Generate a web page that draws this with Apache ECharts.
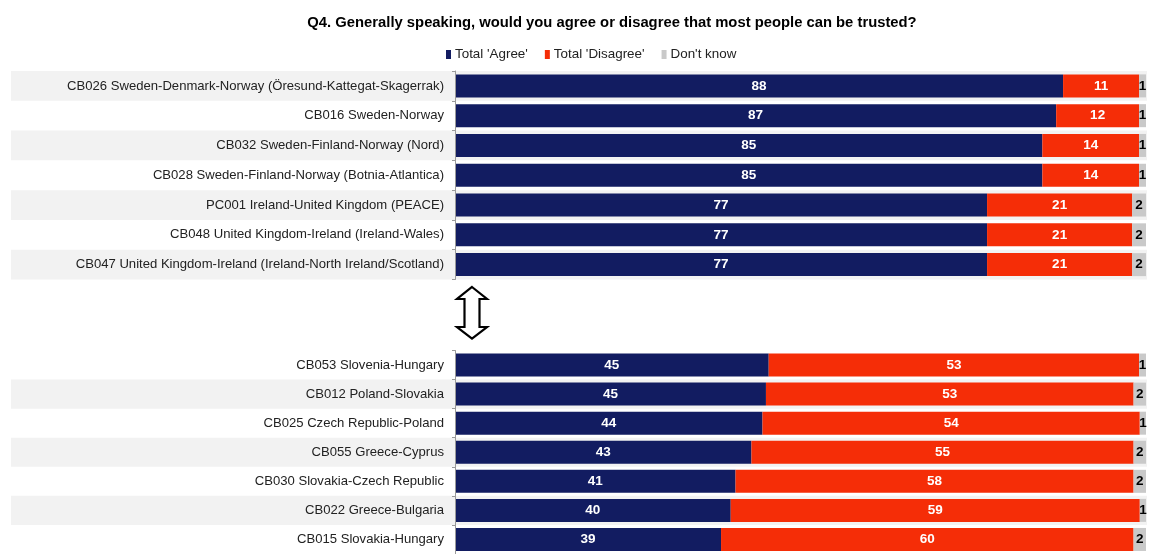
<!DOCTYPE html>
<html>
<head>
<meta charset="utf-8">
<script src="https://cdn.jsdelivr.net/npm/echarts@6/dist/echarts.min.js"></script>
<style>html,body{margin:0;padding:0;background:#fff}#c{width:1151px;height:554px}</style>
</head>
<body>
<div id="c"></div>
<script>
const titleText = "Q4. Generally speaking, would you agree or disagree that most people can be trusted?";
const seriesNames = ["Total 'Agree'", "Total 'Disagree'", "Don't know"];

const topCategories = [
  "CB026 Sweden-Denmark-Norway (Öresund-Kattegat-Skagerrak)",
  "CB016 Sweden-Norway",
  "CB032 Sweden-Finland-Norway (Nord)",
  "CB028 Sweden-Finland-Norway (Botnia-Atlantica)",
  "PC001 Ireland-United Kingdom (PEACE)",
  "CB048 United Kingdom-Ireland (Ireland-Wales)",
  "CB047 United Kingdom-Ireland (Ireland-North Ireland/Scotland)"
];
const topAgree    = [88, 87, 85, 85, 77, 77, 77];
const topDisagree = [11, 12, 14, 14, 21, 21, 21];
const topDontKnow = [1, 1, 1, 1, 2, 2, 2];

const bottomCategories = [
  "CB053 Slovenia-Hungary",
  "CB012 Poland-Slovakia",
  "CB025 Czech Republic-Poland",
  "CB055 Greece-Cyprus",
  "CB030 Slovakia-Czech Republic",
  "CB022 Greece-Bulgaria",
  "CB015 Slovakia-Hungary"
];
// bar lengths (source values are unrounded)
const bottomAgree    = [45.4, 45.0, 44.5, 42.9, 40.6, 39.9, 38.5];
const bottomDisagree = [53.6, 53.2, 54.6, 55.3, 57.6, 59.2, 59.7];
const bottomDontKnow = [1.0, 1.8, 0.9, 1.8, 1.8, 0.9, 1.8];
// labels as printed in the picture
const bottomAgreeLabels    = [45, 45, 44, 43, 41, 40, 39];
const bottomDisagreeLabels = [53, 53, 54, 55, 58, 59, 60];
const bottomDontKnowLabels = [1, 2, 1, 2, 2, 1, 2];

const topStripes    = [1, 0, 1, 0, 1, 0, 1];
const bottomStripes = [0, 1, 0, 1, 0, 1, 0];

const FONT = "'Liberation Sans', Arial, sans-serif";
const C_AGREE = '#121c61', C_DIS = '#f52d07', C_DK = '#c9c9c9';

const chart = echarts.init(document.getElementById('c'), null, {renderer: 'canvas'});

const gridTopY = 71, gridTopH = 208.5, gridBotY = 350.5, gridBotH = 209;

function dataYAxis(cats, gi) {
  return {
    type: 'category', gridIndex: gi, data: cats, inverse: true, z: 5,
    axisLine: {show: true, lineStyle: {color: '#9a9a9a', width: 1}},
    axisTick: {show: true, length: 3, lineStyle: {color: '#9a9a9a'}},
    axisLabel: {fontFamily: FONT, fontSize: 13.1, color: '#222', margin: 11}
  };
}
function stripeYAxis(cats, gi) {
  return {type: 'category', gridIndex: gi, data: cats, inverse: true, show: false};
}
function lbl(color, arr) {
  return {
    show: true, position: 'inside', color: color, fontFamily: FONT,
    fontWeight: 'bold', fontSize: 13.5,
    formatter: arr ? (p => String(arr[p.dataIndex])) : (p => String(p.value))
  };
}
function stripeSeries(data, gi) {
  return {
    type: 'bar', xAxisIndex: gi, yAxisIndex: gi, data: data, barWidth: '100%',
    itemStyle: {color: '#f2f2f2'}, silent: true, z: 0, animation: false
  };
}
function barSeries(name, data, gi, stack, color, labelColor, labels) {
  return {
    name: name, type: 'bar', stack: stack, xAxisIndex: gi, yAxisIndex: gi,
    data: data, barWidth: 23, itemStyle: {color: color},
    label: lbl(labelColor, labels), animation: false, z: 3
  };
}

chart.setOption({
  backgroundColor: '#fff',
  title: {
    text: titleText, left: 607, top: 10, textAlign: 'center',
    textStyle: {fontFamily: FONT, fontSize: 14.8, fontWeight: 'bold', color: '#000'}
  },
  legend: {
    data: seriesNames, left: 446, top: 48, padding: 0,
    itemWidth: 5, itemHeight: 9, itemGap: 17, icon: 'rect',
    textStyle: {fontFamily: FONT, fontSize: 13.4, color: '#222', padding: [0, 0, 0, -1]}
  },
  grid: [
    {left: 11, right: 4, top: gridTopY, height: gridTopH},
    {left: 11, right: 4, top: gridBotY, height: gridBotH},
    {left: 455, right: 5, top: gridTopY, height: gridTopH},
    {left: 455, right: 5, top: gridBotY, height: gridBotH}
  ],
  xAxis: [0, 1, 2, 3].map(i => ({
    type: 'value', gridIndex: i, min: 0, max: i < 2 ? 1 : 100, show: false
  })),
  yAxis: [
    stripeYAxis(topCategories, 0),
    stripeYAxis(bottomCategories, 1),
    dataYAxis(topCategories, 2),
    dataYAxis(bottomCategories, 3)
  ],
  graphic: [{
    type: 'polygon', z: 10,
    shape: {points: [[472,287],[487,299],[479.5,299],[479.5,327],[487,327],[472,338.5],[457,327],[464.5,327],[464.5,299],[457,299]]},
    style: {fill: '#fff', stroke: '#000', lineWidth: 2.2}
  }],
  series: [
    stripeSeries(topStripes, 0),
    stripeSeries(bottomStripes, 1),
    barSeries(seriesNames[0], topAgree, 2, 'top', C_AGREE, '#fff'),
    barSeries(seriesNames[1], topDisagree, 2, 'top', C_DIS, '#fff'),
    barSeries(seriesNames[2], topDontKnow, 2, 'top', C_DK, '#000'),
    barSeries(seriesNames[0], bottomAgree, 3, 'bot', C_AGREE, '#fff', bottomAgreeLabels),
    barSeries(seriesNames[1], bottomDisagree, 3, 'bot', C_DIS, '#fff', bottomDisagreeLabels),
    barSeries(seriesNames[2], bottomDontKnow, 3, 'bot', C_DK, '#000', bottomDontKnowLabels)
  ]
});
</script>
</body>
</html>
